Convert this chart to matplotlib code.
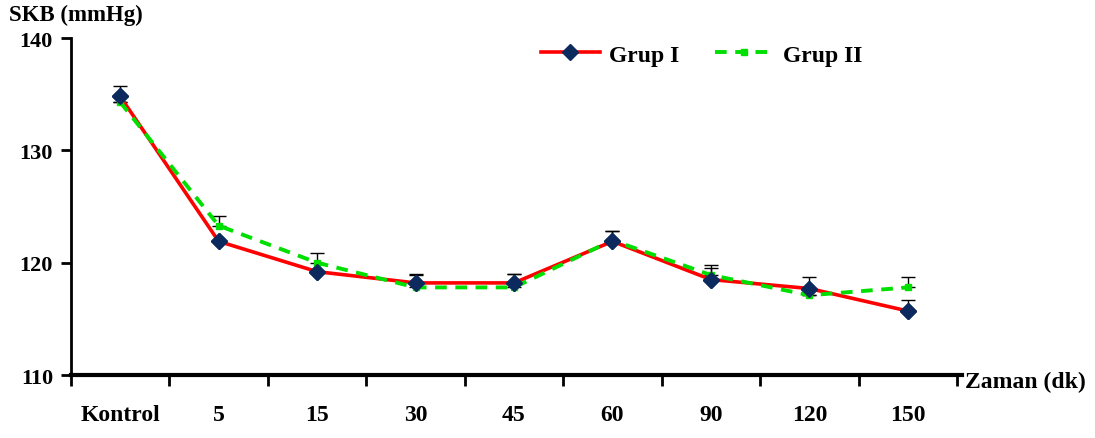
import numpy as np
import matplotlib.pyplot as plt

# veriler
kategoriler = ['Kontrol', '5', '15', '30', '45', '60', '90', '120', '150']
grup1 = [134.8, 121.9, 119.2, 118.2, 118.2, 121.9, 118.5, 117.7, 115.7]
grup1_hata = [0.9, 0.0, 0.0, 0.7, 0.8, 0.9, 1.0, 1.0, 1.0]
grup2 = [134.3, 123.3, 120.0, 117.8, 117.8, 122.0, 118.9, 117.1, 117.8]
grup2_hata = [0.0, 0.9, 0.9, 1.2, 1.2, 0.8, 0.9, 0.0, 0.9]
y_ticks = [110, 120, 130, 140]

plt.rcParams['font.family'] = ['Liberation Serif', 'DejaVu Serif']
plt.rcParams['font.weight'] = 'bold'

fig = plt.figure(figsize=(10.95, 4.39), dpi=100)
ax = fig.add_axes([0.0648, 0.1435, 0.8137, 0.7675])

x = np.arange(len(kategoriler))

# sadece ust hata cubuklari
ax.errorbar(x, grup1, yerr=[np.zeros(len(x)), grup1_hata], fmt='none',
            ecolor='black', elinewidth=1, capsize=5, capthick=1, zorder=1)
ax.errorbar(x, grup2, yerr=[np.zeros(len(x)), grup2_hata], fmt='none',
            ecolor='black', elinewidth=1, capsize=5, capthick=1, zorder=1)

ax.plot(x, grup1, color='#ff0000', lw=2.6, marker='D', ms=8.5,
        mfc='#0d2a5e', mec='#0d2a5e', label='Grup I', zorder=2)
ax.plot(x, grup2, color='#00e000', lw=2.8, ls=(0, (3, 2.2)), marker='s', ms=4,
        mfc='#00e000', mec='#00e000', label='Grup II', zorder=3)
ax.plot(x, grup1, ls='none', marker='D', ms=8.5, mfc='#0d2a5e',
        mec='#0d2a5e', zorder=4)

ax.set_xlim(-0.5, len(kategoriler) - 0.45)
ax.set_ylim(110, 140)
ax.set_yticks(y_ticks)
ax.set_yticklabels([str(t) for t in y_ticks], fontsize=16, fontweight='bold')

# ana tikler kategori sinirlarinda, etiketler ortada
ax.set_xticks(np.arange(len(kategoriler) + 1) - 0.5)
ax.set_xticklabels([])
ax.set_xticks(x, minor=True)
ax.set_xticklabels(kategoriler, minor=True, fontsize=17, fontweight='bold')
ax.tick_params(axis='x', which='major', direction='out', length=8, width=2)
ax.tick_params(axis='x', which='minor', length=0, pad=21)
ax.tick_params(axis='y', direction='out', length=7, width=2, pad=6)

for s in ['top', 'right']:
    ax.spines[s].set_visible(False)
ax.spines['left'].set_linewidth(2)
ax.spines['bottom'].set_linewidth(3)

fig.text(0.008, 0.965, 'SKB (mmHg)', fontsize=16.5, fontweight='bold', va='center')
fig.text(0.881, 0.128, 'Zaman (dk)', fontsize=17, fontweight='bold', va='center')

ax.legend(loc='upper center', bbox_to_anchor=(0.708, 1.045), ncol=2, frameon=False,
          fontsize=17, handlelength=2.5, columnspacing=1.5, handletextpad=0.4)

fig.savefig('out.png', dpi=100)
